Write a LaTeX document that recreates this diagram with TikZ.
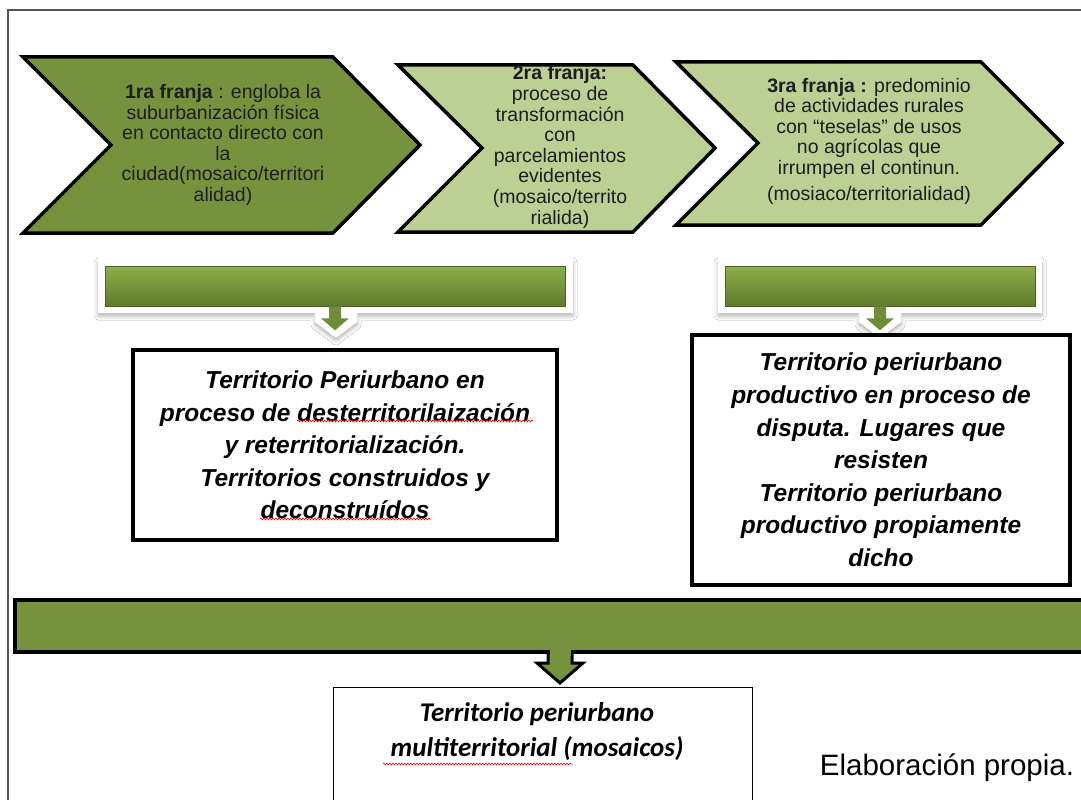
\documentclass[tikz,border=0pt]{standalone}
\usepackage{fontspec}
\setmainfont{Liberation Sans}
\newfontfamily\calibrifont{Carlito}
\usetikzlibrary{shadows.blur,decorations.pathmorphing,calc}
\definecolor{olivedark}{HTML}{76923C}
\definecolor{olivelight}{HTML}{BDD093}
\definecolor{bartop}{HTML}{8DAF4B}
\definecolor{barbot}{HTML}{5E7A2B}
\definecolor{txtgray}{HTML}{1E1E1E}
\definecolor{framegray}{HTML}{555555}
\tikzset{
  chev/.style={draw=black, line width=3.5pt, line join=miter},
  chevtext/.style={align=center, text=txtgray, inner sep=0pt, font=\fontsize{19.5}{20.6}\selectfont},
  glow/.style={fill=white, blur shadow={shadow blur radius=4pt, shadow xshift=0pt, shadow yshift=-3pt, shadow opacity=30}},
  gbar/.style={draw=barbot!80!black, line width=0.6pt, top color=bartop, bottom color=barbot, inner sep=0pt},
  smallarrow/.style={fill=olivedark!95!black, draw=none},
  resbox/.style={draw=black, line width=4pt, fill=white, align=center, inner sep=0pt,
     font=\fontsize{24.5}{32.6}\selectfont\bfseries\itshape},
  bigbar/.style={draw=black, line width=4pt, fill=olivedark, inner sep=0pt},
  spell/.style={draw=red, line width=0.6pt, decorate, decoration={snake, amplitude=0.9pt, segment length=3pt}}
}
\begin{document}
\begin{tikzpicture}[x=1pt,y=-1pt]
\useasboundingbox (0,0) rectangle (1081,800);
\clip (0,0) rectangle (1081,800);
\fill[white] (0,0) rectangle (1081,800);
% frame
\draw[framegray, line width=1.5pt] (8,805) -- (8,10) -- (1090,10);

% chevrons
\draw[chev, fill=olivedark] (23,57) -- (333,57) -- (420,145) -- (333,233) -- (23,233) -- (111,145) -- cycle;
\draw[chev, fill=olivelight] (398,65) -- (633,65) -- (715,148) -- (633,232) -- (398,232) -- (482,148) -- cycle;
\draw[chev, fill=olivelight] (676,62) -- (981,62) -- (1062,143) -- (981,225) -- (676,225) -- (758,143) -- cycle;

\node[chevtext] (t1) at (223,145) {\textbf{1ra franja} :  engloba la\\suburbanización física\\en contacto directo con\\la\\ciudad(mosaico/territori\\alidad)};
\node[chevtext] (t2) at (560,147) {\textbf{2ra franja:}\\proceso de\\transformación\\con\\parcelamientos\\evidentes\\(mosaico/territo\\rialida)};
\node[chevtext] (t3) at (869,141) {\textbf{3ra franja :}  predominio\\de actividades rurales\\con “teselas” de usos\\no agrícolas  que\\irrumpen el continun.\\[5pt](mosiaco/territorialidad)};

% bar 1 with glow and arrow
\fill[glow] (98,259) -- (573,259) -- (573,313) -- (357,313) -- (357,322) -- (336,338) -- (315,322) -- (315,313) -- (98,313) -- cycle;
\node[gbar, minimum width=460pt, minimum height=40pt] (bar1) at (335,286) {};
\fill[smallarrow] ($(bar1.south)+(-6,0)$) -- ++(12,0) -- ++(0,12) -- ++(8,0) -- ($(bar1.south)+(0,24)$) -- ++(-14,-12) -- ++(8,0) -- cycle;

% bar 2 with glow and arrow
\fill[glow] (718,259) -- (1042,259) -- (1042,313) -- (901,313) -- (901,322) -- (880,338) -- (859,322) -- (859,313) -- (718,313) -- cycle;
\node[gbar, minimum width=310pt, minimum height=40pt] (bar2) at (880,286) {};
\fill[smallarrow] ($(bar2.south)+(-6,0)$) -- ++(12,0) -- ++(0,12) -- ++(8,0) -- ($(bar2.south)+(0,24)$) -- ++(-14,-12) -- ++(8,0) -- cycle;

% result boxes
\node[resbox, minimum width=424pt, minimum height=190pt] (box1) at (345,445)
 {Territorio Periurbano en\\proceso de desterritorilaización\\y reterritorialización.\\Territorios construidos y\\deconstruídos};
\node[resbox, minimum width=378pt, minimum height=250pt] (box2) at (881,460)
 {Territorio periurbano\\productivo en proceso de\\disputa. Lugares que\\resisten\\Territorio periurbano\\productivo propiamente\\dicho};

% big bar
\node[bigbar, minimum width=1090pt, minimum height=52pt] (big) at (560,626) {};
\draw[black, line width=3pt, fill=olivedark, line join=miter]
  ($(big.south)+(-12,0)$) -- ($(big.south)+(-12,9)$) -- ($(big.south)+(-23,9)$) -- ($(big.south)+(0,29)$)
  -- ($(big.south)+(23,9)$) -- ($(big.south)+(12,9)$) -- ($(big.south)+(12,0)$);
\fill[olivedark] ($(big.south)+(-10.5,-4)$) rectangle ($(big.south)+(10.5,2)$);

% bottom box
\node[draw=black, line width=1pt, fill=white, minimum width=419pt, minimum height=150pt, inner sep=0pt] (box3) at (543,762) {};
\node[align=center, inner sep=0pt, font=\calibrifont\fontsize{27}{35}\selectfont\bfseries\itshape] (t4) at (537,732)
 {Territorio periurbano\\multiterritorial (mosaicos)};

\node[inner sep=0pt, font=\fontsize{29.5}{31}\selectfont] (src) at (947,768) {Elaboración propia.};

% spell-check underlines
\draw[spell] (297,421) -- (533,421);
\draw[spell] (260,519) -- (431,519);
\draw[spell] (383,764) -- (572,764);
\end{tikzpicture}
\end{document}
